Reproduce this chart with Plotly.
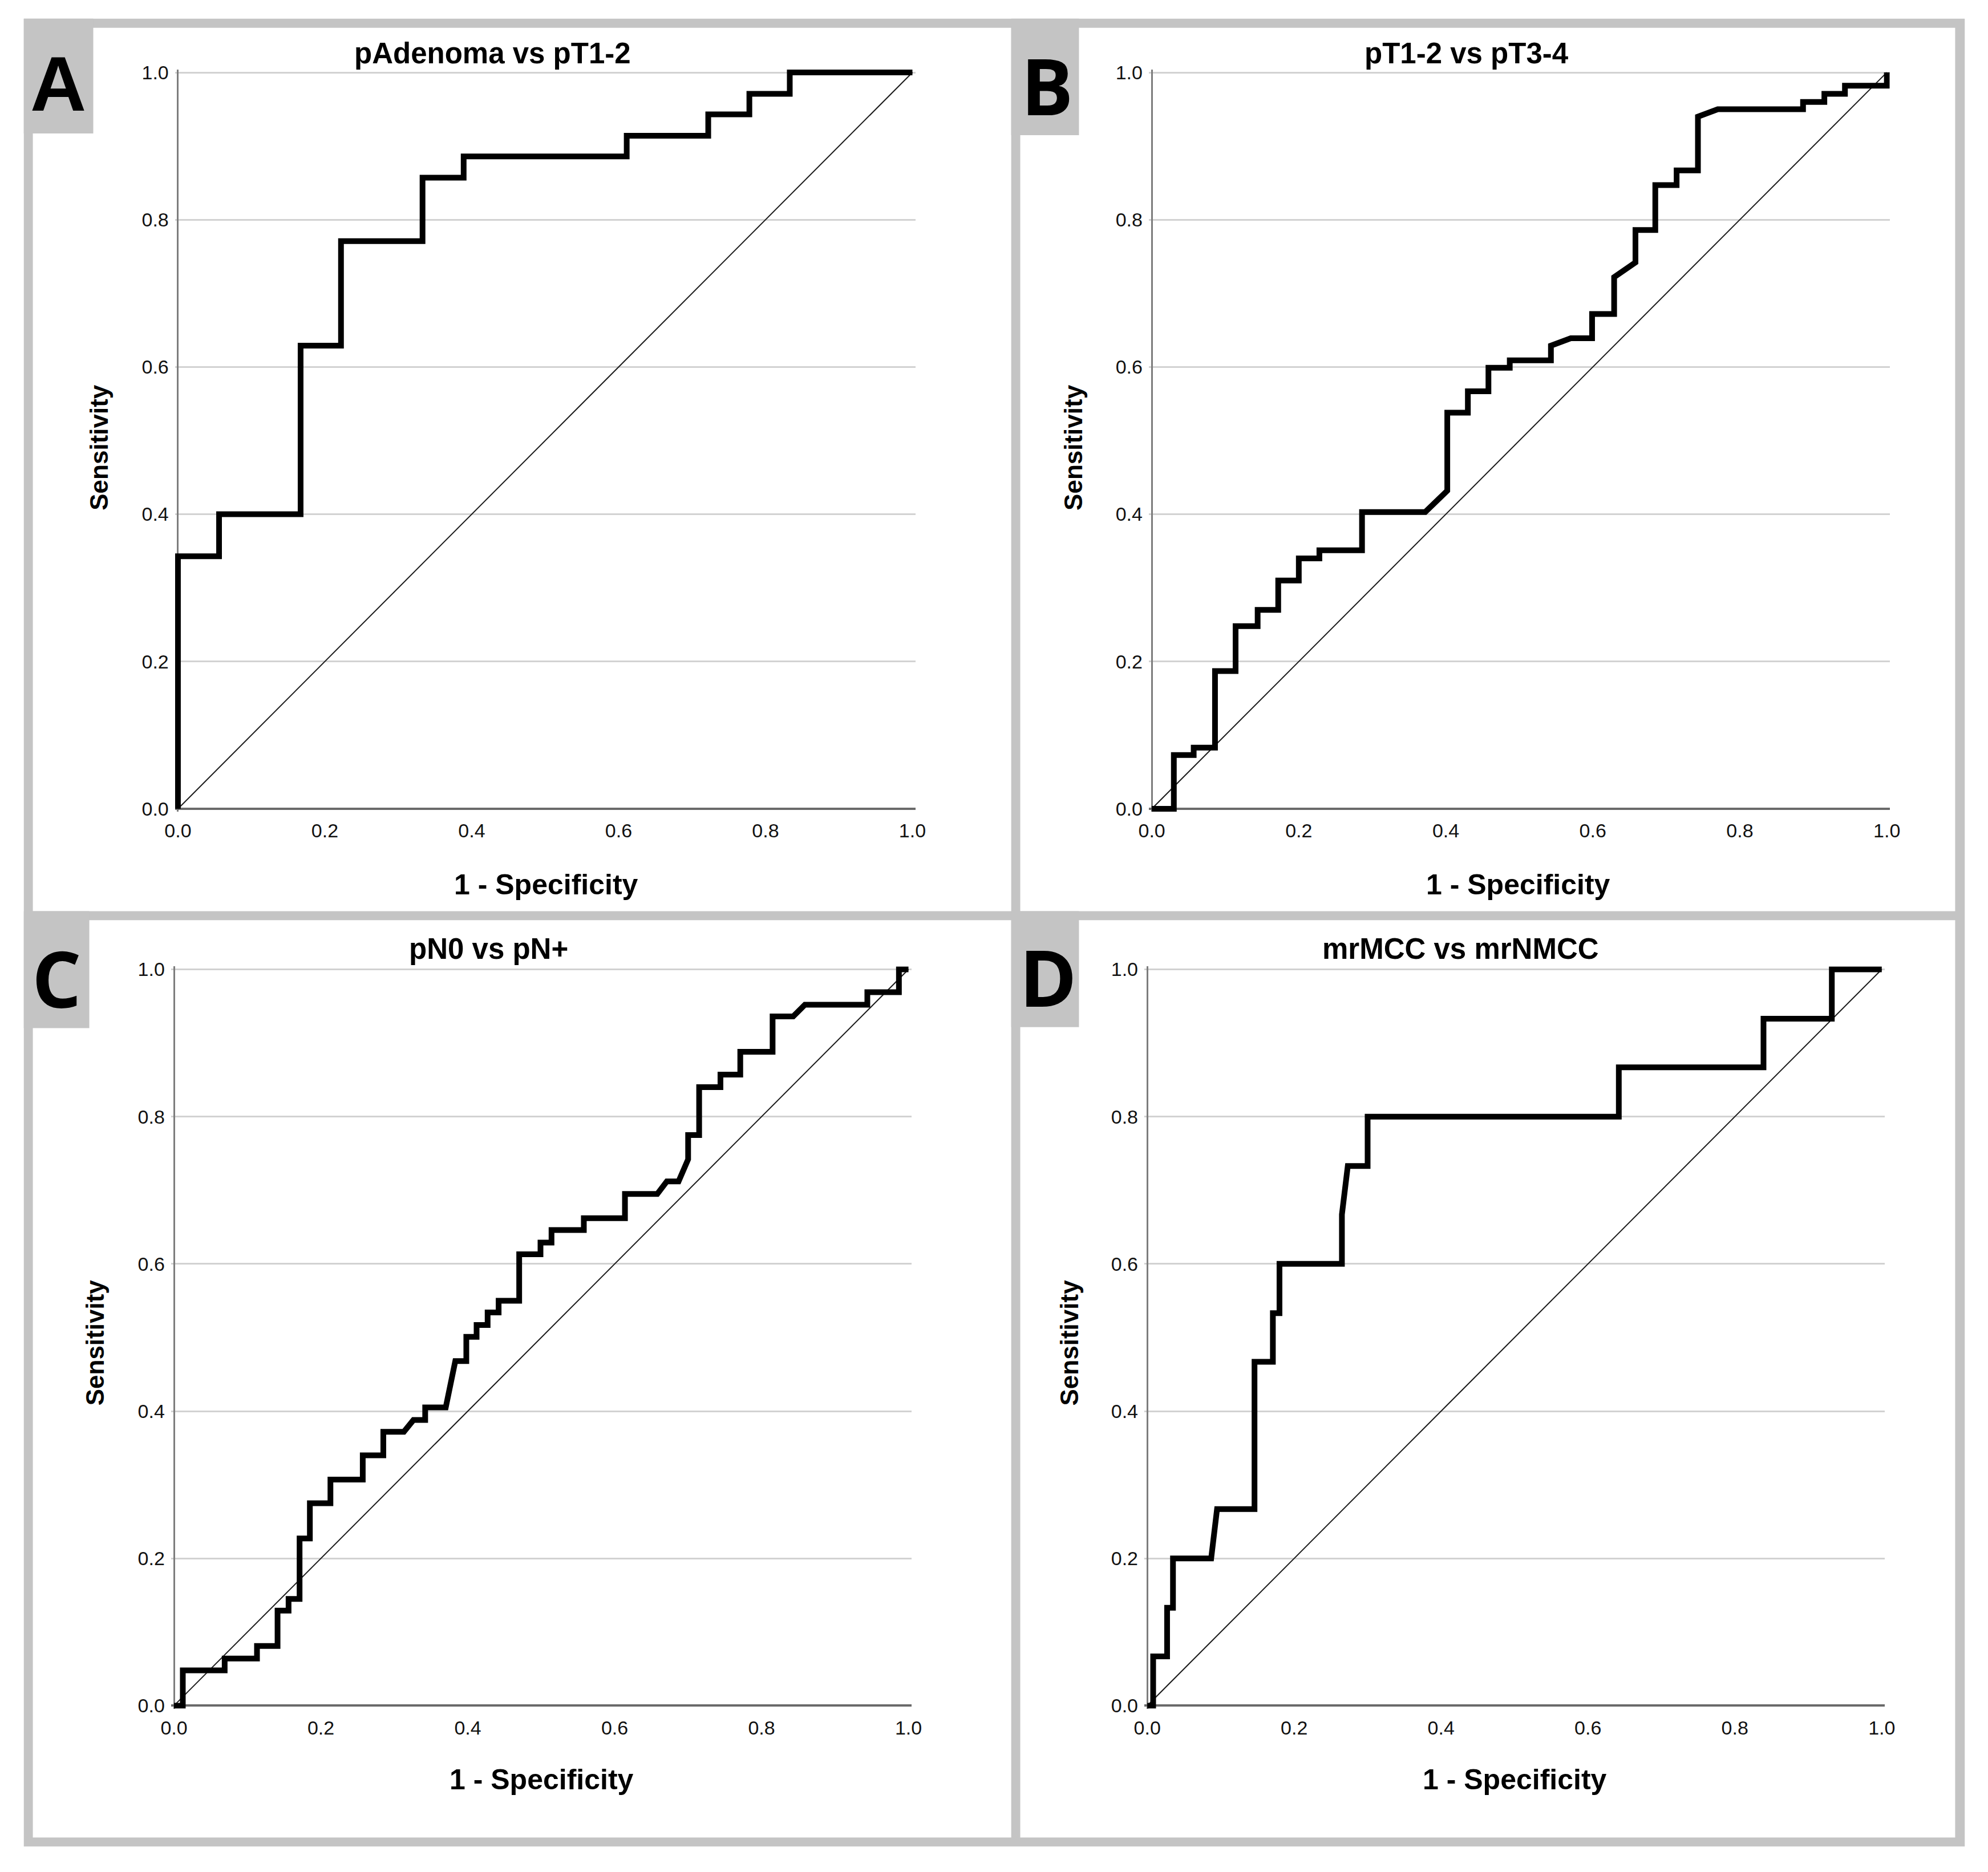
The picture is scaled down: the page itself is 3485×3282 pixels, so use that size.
import plotly.graph_objects as go

W, H = 3485, 3282

# ---------------- data ----------------
panel_titles = ["pAdenoma vs pT1-2", "pT1-2 vs pT3-4", "pN0 vs pN+", "mrMCC vs mrNMCC"]
panel_letters = ["A", "B", "C", "D"]
x_title = "1 - Specificity"
y_title = "Sensitivity"
tick_vals = [0.0, 0.2, 0.4, 0.6, 0.8, 1.0]
tick_text = ["0.0", "0.2", "0.4", "0.6", "0.8", "1.0"]
ref_x = [0.0, 1.0]
ref_y = [0.0, 1.0]

A_fpr = [0.0, 0.0, 0.056, 0.056, 0.167, 0.167, 0.222, 0.222, 0.333, 0.333, 0.389, 0.389,
         0.611, 0.611, 0.722, 0.722, 0.778, 0.778, 0.833, 0.833, 1.0]
A_tpr = [0.0, 0.343, 0.343, 0.400, 0.400, 0.629, 0.629, 0.771, 0.771, 0.857, 0.857, 0.886,
         0.886, 0.914, 0.914, 0.943, 0.943, 0.971, 0.971, 1.0, 1.0]

B_fpr = [0.0, 0.030, 0.030, 0.057, 0.057, 0.086, 0.086, 0.114, 0.114, 0.144, 0.144, 0.172,
         0.172, 0.200, 0.200, 0.228, 0.228, 0.286, 0.286, 0.372, 0.402, 0.402, 0.430, 0.430,
         0.458, 0.458, 0.487, 0.487, 0.543, 0.543, 0.570, 0.599, 0.599, 0.629, 0.629, 0.658,
         0.658, 0.685, 0.685, 0.714, 0.714, 0.743, 0.743, 0.770, 0.886, 0.886, 0.915, 0.915,
         0.943, 0.943, 1.0, 1.0]
B_tpr = [0.0, 0.0, 0.073, 0.073, 0.083, 0.083, 0.187, 0.187, 0.248, 0.248, 0.270, 0.270,
         0.310, 0.310, 0.340, 0.340, 0.351, 0.351, 0.403, 0.403, 0.432, 0.538, 0.538, 0.567,
         0.567, 0.599, 0.599, 0.609, 0.609, 0.629, 0.639, 0.639, 0.672, 0.672, 0.722, 0.742,
         0.786, 0.786, 0.847, 0.847, 0.867, 0.867, 0.940, 0.950, 0.950, 0.960, 0.960, 0.971,
         0.971, 0.982, 0.982, 1.0]

C_fpr = [0.0, 0.012, 0.012, 0.069, 0.069, 0.113, 0.113, 0.141, 0.141, 0.156, 0.156, 0.171,
         0.171, 0.185, 0.185, 0.213, 0.213, 0.257, 0.257, 0.285, 0.285, 0.313, 0.326, 0.342,
         0.342, 0.370, 0.383, 0.398, 0.398, 0.412, 0.412, 0.427, 0.427, 0.442, 0.442, 0.470,
         0.470, 0.499, 0.499, 0.514, 0.514, 0.558, 0.558, 0.614, 0.614, 0.658, 0.671, 0.687,
         0.700, 0.700, 0.715, 0.715, 0.744, 0.744, 0.771, 0.771, 0.815, 0.815, 0.843, 0.859,
         0.944, 0.944, 0.987, 0.987, 1.0]
C_tpr = [0.0, 0.0, 0.048, 0.048, 0.064, 0.064, 0.081, 0.081, 0.129, 0.129, 0.145, 0.145,
         0.227, 0.227, 0.275, 0.275, 0.307, 0.307, 0.340, 0.340, 0.372, 0.372, 0.388, 0.388,
         0.405, 0.405, 0.468, 0.468, 0.501, 0.501, 0.517, 0.517, 0.534, 0.534, 0.550, 0.550,
         0.613, 0.613, 0.629, 0.629, 0.646, 0.646, 0.662, 0.662, 0.695, 0.695, 0.712, 0.712,
         0.742, 0.775, 0.775, 0.840, 0.840, 0.857, 0.857, 0.888, 0.888, 0.936, 0.936, 0.952,
         0.952, 0.969, 0.969, 1.0, 1.0]

D_fpr = [0.0, 0.008, 0.008, 0.027, 0.027, 0.035, 0.035, 0.087, 0.095, 0.146, 0.146, 0.171,
         0.171, 0.180, 0.180, 0.265, 0.265, 0.273, 0.300, 0.300, 0.642, 0.642, 0.839, 0.839,
         0.932, 0.932, 1.0]
D_tpr = [0.0, 0.0, 0.067, 0.067, 0.133, 0.133, 0.200, 0.200, 0.267, 0.267, 0.467, 0.467,
         0.533, 0.533, 0.600, 0.600, 0.667, 0.733, 0.733, 0.800, 0.800, 0.867, 0.867, 0.933,
         0.933, 1.0, 1.0]

curves = [(A_fpr, A_tpr), (B_fpr, B_tpr), (C_fpr, C_tpr), (D_fpr, D_tpr)]

# ---------------- layout geometry (pixels) ----------------
plot_px = [(297, 1598, 114, 1416), (2022, 3324, 114, 1416),
           (290, 1591, 1700, 3002), (2014, 3315, 1700, 3002)]
title_px = [(854, 80), (2580, 80), (847, 1664), (2569, 1664)]
xtitle_px = [(949, 1550), (2671, 1550), (941, 3133), (2665, 3133)]
ytitle_px = [(157, 777), (1883, 777), (150, 2360), (1876, 2360)]
letter_px = [(85, 134), (1836, 137), (82, 1715), (1838, 1713)]
letter_box = [(24, 147, 19, 222), (1773, 1893, 19, 225), (24, 140, 1597, 1804), (1773, 1893, 1597, 1802)]
panel_box = [(40, 1773, 35, 1597), (1789, 3445, 35, 1597), (40, 1773, 1613, 3235), (1789, 3445, 1613, 3235)]

GREY = "#c4c4c4"
PAD = 0.004


def px(x):
    return x / W


def py(y):
    return 1 - y / H


fig = go.Figure()
shapes = []
annotations = []

shapes.append(dict(type="rect", xref="paper", yref="paper", x0=px(24), x1=px(3462), y0=py(3251), y1=py(19),
                   fillcolor=GREY, line=dict(width=0), layer="below"))
for (l, r, t, b) in panel_box:
    shapes.append(dict(type="rect", xref="paper", yref="paper", x0=px(l), x1=px(r), y0=py(b), y1=py(t),
                       fillcolor="white", line=dict(width=0), layer="below"))
for (l, r, t, b) in letter_box:
    shapes.append(dict(type="rect", xref="paper", yref="paper", x0=px(l), x1=px(r), y0=py(b), y1=py(t),
                       fillcolor=GREY, line=dict(width=0), layer="below"))

layout_axes = {}
for i in range(4):
    n = i + 1
    xa = "x" if n == 1 else f"x{n}"
    ya = "y" if n == 1 else f"y{n}"
    l, r, t, b = plot_px[i]
    wpx = r - l
    hpx = b - t
    dom_x = [px(l - PAD * wpx), px(r + PAD * wpx)]
    dom_y = [py(b + PAD * hpx), py(t - PAD * hpx)]

    fig.add_trace(go.Scatter(x=ref_x, y=ref_y, mode="lines", xaxis=xa, yaxis=ya,
                             line=dict(color="#1a1a1a", width=2), showlegend=False, hoverinfo="skip"))
    fx, fy = curves[i]
    fig.add_trace(go.Scatter(x=fx, y=fy, mode="lines", xaxis=xa, yaxis=ya,
                             line=dict(color="black", width=10), showlegend=False))

    xkey = "xaxis" if n == 1 else f"xaxis{n}"
    ykey = "yaxis" if n == 1 else f"yaxis{n}"
    layout_axes[xkey] = dict(domain=dom_x, range=[-PAD, 1 + PAD], anchor=ya,
                             tickvals=tick_vals, ticktext=tick_text, showgrid=False,
                             zeroline=True, zerolinecolor="#7d7d7d", zerolinewidth=3,
                             showline=False, ticks="", ticklabelstandoff=10,
                             tickfont=dict(family="Liberation Sans, Arial", size=34, color="#111"),
                             fixedrange=True)
    layout_axes[ykey] = dict(domain=dom_y, range=[-PAD, 1 + PAD], anchor=xa,
                             tickvals=tick_vals, ticktext=tick_text, showgrid=True,
                             gridcolor="#d2d2d2", gridwidth=3,
                             zeroline=True, zerolinecolor="#6a6a6a", zerolinewidth=4,
                             showline=False, ticks="", ticklabelstandoff=10,
                             tickfont=dict(family="Liberation Sans, Arial", size=34, color="#111"),
                             fixedrange=True)

    tx, ty = title_px[i]
    annotations.append(dict(text=panel_titles[i], xref="paper", yref="paper", x=px(tx), y=py(ty),
                            xanchor="center", yanchor="middle", showarrow=False,
                            font=dict(family="Liberation Sans, Arial", size=51, color="black", weight="bold")))
    ax_, ay_ = xtitle_px[i]
    annotations.append(dict(text=x_title, xref="paper", yref="paper", x=px(ax_), y=py(ay_),
                            xanchor="center", yanchor="middle", showarrow=False,
                            font=dict(family="Liberation Sans, Arial", size=50, color="black", weight="bold")))
    yx_, yy_ = ytitle_px[i]
    annotations.append(dict(text=y_title, xref="paper", yref="paper", x=px(yx_), y=py(yy_),
                            xanchor="center", yanchor="middle", showarrow=False, textangle=-90,
                            font=dict(family="Liberation Sans, Arial", size=44, color="black", weight="bold")))
    lx, ly = letter_px[i]
    fam = "Liberation Sans, Arial" if i == 0 else "Open Sans, Liberation Sans"
    annotations.append(dict(text=panel_letters[i], xref="paper", yref="paper", x=px(lx), y=py(ly),
                            xanchor="center", yanchor="middle", showarrow=False,
                            font=dict(family=fam, size=136, color="black", weight="bold")))

fig.update_layout(width=W, height=H, margin=dict(l=0, r=0, t=0, b=0, pad=0),
                  paper_bgcolor="white", plot_bgcolor="rgba(0,0,0,0)",
                  shapes=shapes, annotations=annotations, showlegend=False, **layout_axes)

fig.write_html("out.html", config={"displayModeBar": False},
               post_script="document.body.style.margin='0px';")
